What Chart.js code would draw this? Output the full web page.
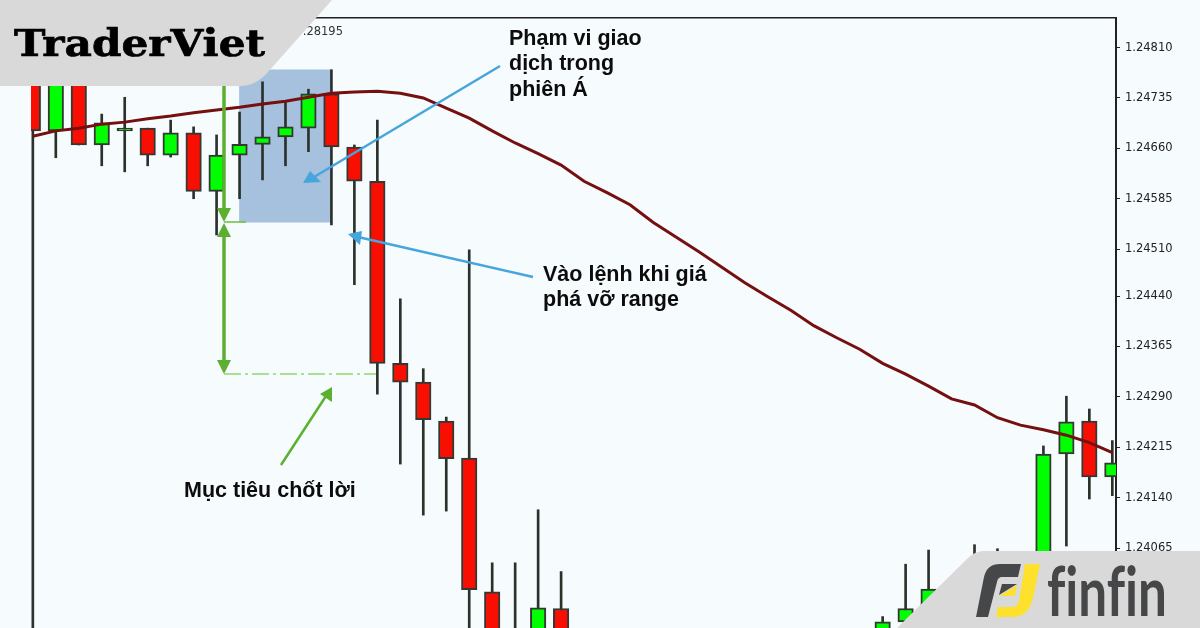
<!DOCTYPE html>
<html>
<head>
<meta charset="utf-8">
<title>TraderViet</title>
<script src="https://cdn.jsdelivr.net/npm/chart.js@4"></script>
<style>
  html, body { margin: 0; padding: 0; background: #f6fbfe; overflow: hidden; }
  #wrap { position: relative; width: 1200px; height: 628px; }
  #overlay { position: absolute; left: 0; top: 0; }
  .note { font: bold 21.5px "Liberation Sans", sans-serif; fill: #0c0c0c; }
</style>
</head>
<body>
<div id="wrap">
  <canvas id="priceChart" width="1200" height="628"></canvas>
  <svg id="overlay" width="1200" height="628" viewBox="0 0 1200 628">
    <text x="343" y="35" text-anchor="end" font-family="DejaVu Sans" font-size="11.5" fill="#333">.28195</text>

    <!-- take profit guides -->
    <line x1="224" y1="222" x2="246" y2="222" stroke="#6cbf3e" stroke-width="1.5"/>
    <line x1="224" y1="374" x2="376" y2="374" stroke="#93d66f" stroke-width="1.5" stroke-dasharray="17 4 3 4"/>
    <line x1="224" y1="80" x2="224" y2="210" stroke="#5cb030" stroke-width="3.5"/>
    <polygon points="217,208 231,208 224,222" fill="#5cb030"/>
    <line x1="224" y1="234" x2="224" y2="362" stroke="#5cb030" stroke-width="3.5"/>
    <polygon points="217,237 231,237 224,223" fill="#5cb030"/>
    <polygon points="217,360 231,360 224,374" fill="#5cb030"/>
    <line x1="281" y1="465" x2="326" y2="396" stroke="#5cb030" stroke-width="2.5"/>
    <polygon points="332,387 320,394 332,402" fill="#5cb030"/>

    <!-- blue pointers -->
    <line x1="500" y1="66" x2="314" y2="177" stroke="#45a5dc" stroke-width="2.5"/>
    <polygon points="303,183 310,171 321,182" fill="#45a5dc"/>
    <line x1="533" y1="277" x2="358" y2="237" stroke="#45a5dc" stroke-width="2.5"/>
    <polygon points="348,234 362,231 360,245" fill="#45a5dc"/>

    <text class="note" x="509" y="45">Phạm vi giao</text>
    <text class="note" x="509" y="70">dịch trong</text>
    <text class="note" x="509" y="96">phiên Á</text>
    <text class="note" x="543" y="281">Vào lệnh khi giá</text>
    <text class="note" x="543" y="306">phá vỡ range</text>
    <text class="note" x="184" y="497">Mục tiêu chốt lời</text>

    <!-- corner logos -->
    <path d="M0 0H332L268 72Q256 86 240 86H0Z" fill="#d9d9d9"/>
    <text x="14" y="56" font-family="DejaVu Serif" font-weight="bold" font-size="38" textLength="251" lengthAdjust="spacingAndGlyphs" fill="#000" stroke="#000" stroke-width="0.7">TraderViet</text>

    <path d="M1200 551H984Q975 551 968 558L897 628H1200Z" fill="#d9d9d9"/>
    <path d="M976 617L984 577Q987 564 1000 564H1021L1018 577H1002Q998 577 997 582L988 617Z" fill="#454749"/>
    <polygon points="999,595 1017,584 1002,584" fill="#454749"/>
    <polygon points="999.5,596 1017,585 1015,596" fill="#fde12d"/>
    <path d="M1025 564H1040L1033 598Q1029 617 1012 617H996L998 607H1012Q1018 607 1019 601Z" fill="#fde12d"/>
    <text x="1047" y="616" font-family="Lato" font-weight="bold" font-size="68" textLength="120" lengthAdjust="spacingAndGlyphs" fill="#454749" style="font-variant-ligatures:none">finfin</text>
  </svg>
</div>
<script>
// prices, one slot per candle. null = not visible (below the crop or under the logo)
const opens = [1.24762, 1.24686, 1.24762, 1.24665, 1.24686, 1.24690, 1.24650, 1.24683, 1.24596, 1.24650,
  1.24666, 1.24677, 1.24690, 1.24741, 1.24662, 1.24611, 1.24340, 1.24312, 1.24254, 1.24199,
  1.24000, 1.23935, 1.23930, 1.23975, null, null, null, null, null, null,
  null, null, null, null, null, null, null, 1.23930, 1.23955, 1.23970,
  null, 1.24000, 1.24000, null, 1.23988, 1.24205, 1.24254, 1.24171];
const highs = [1.24790, 1.24775, 1.24775, 1.24711, 1.24736, 1.24690, 1.24702, 1.24692, 1.24680, 1.24714,
  1.24759, 1.24729, 1.24748, 1.24777, 1.24665, 1.24702, 1.24436, 1.24332, 1.24260, 1.24509,
  1.24043, 1.24043, 1.24122, 1.24030, null, null, null, null, null, null,
  null, null, null, null, null, null, null, 1.23963, 1.24041, 1.24062,
  null, 1.24070, 1.24064, null, 1.24217, 1.24291, 1.24272, 1.24225];
const lows = [1.23928, 1.24646, 1.24665, 1.24634, 1.24625, 1.24634, 1.24647, 1.24585, 1.24531, 1.24585,
  1.24613, 1.24634, 1.24655, 1.24546, 1.24457, 1.24294, 1.24190, 1.24114, 1.24120, 1.23928,
  1.23920, 1.23920, 1.23920, 1.23920, null, null, null, null, null, null,
  null, null, null, null, null, null, null, 1.23920, 1.23940, 1.23950,
  null, 1.23980, 1.23980, null, 1.23970, 1.24068, 1.24138, 1.24143];
const closes = [1.24686, 1.24762, 1.24665, 1.24698, 1.24690, 1.24650, 1.24683, 1.24596, 1.24650, 1.24666,
  1.24677, 1.24692, 1.24741, 1.24662, 1.24611, 1.24340, 1.24312, 1.24256, 1.24198, 1.24003,
  1.23930, 1.23930, 1.23976, 1.23930, null, null, null, null, null, null,
  null, null, null, null, null, null, null, 1.23955, 1.23975, 1.24004,
  null, 1.24047, 1.24040, null, 1.24205, 1.24253, 1.24171, 1.24192];
const movingAvg = [1.24678, 1.24686, 1.24690, 1.24696, 1.24699, 1.24704, 1.24708, 1.24713, 1.24717, 1.24721,
  1.24726, 1.24730, 1.24736, 1.24742, 1.24744, 1.24745, 1.24742, 1.24735, 1.24720, 1.24705,
  1.24686, 1.24668, 1.24652, 1.24635, 1.24611, 1.24594, 1.24576, 1.24550, 1.24528, 1.24506,
  1.24483, 1.24460, 1.24439, 1.24419, 1.24396, 1.24378, 1.24361, 1.24340, 1.24324, 1.24306,
  1.24287, 1.24278, 1.24259, 1.24248, 1.24241, 1.24233, 1.24222, 1.24207];
const priceTicks = [1.24810, 1.24735, 1.24660, 1.24585, 1.24510, 1.24440, 1.24365, 1.24290, 1.24215, 1.24140, 1.24065];
const asiaRange = [1.24550, 1.24777]; // low, high of the shaded session box
const asiaMiddle = 11; // candle the box is centred on

const candleIdx = opens.map((_, i) => i).filter(i => opens[i] !== null);
const upIdx = candleIdx.filter(i => closes[i] > opens[i]);
const downIdx = candleIdx.filter(i => closes[i] <= opens[i]);

function bodyData(list) {
  return list.map(i => ({ x: i, y: [opens[i], closes[i]] }));
}

new Chart(document.getElementById('priceChart').getContext('2d'), {
  type: 'bar',
  data: {
    datasets: [
      {
        data: [{ x: asiaMiddle, y: asiaRange }],
        backgroundColor: '#a5c1de',
        barThickness: 92,
        grouped: false,
        order: 4,
      },
      {
        data: candleIdx.map(i => ({ x: i, y: [lows[i], highs[i]] })),
        backgroundColor: '#2b312b',
        barThickness: 2,
        grouped: false,
        order: 3,
      },
      {
        data: bodyData(upIdx),
        backgroundColor: '#00ff00',
        borderColor: '#333833',
        borderWidth: 2,
        borderSkipped: false,
        barThickness: 15.5,
        grouped: false,
        order: 2,
      },
      {
        data: bodyData(downIdx),
        backgroundColor: '#f90e02',
        borderColor: '#333833',
        borderWidth: 2,
        borderSkipped: false,
        barThickness: 15.5,
        grouped: false,
        order: 2,
      },
      {
        type: 'line',
        data: movingAvg.map((v, i) => ({ x: i, y: v })),
        borderColor: '#761010',
        borderWidth: 3,
        pointRadius: 0,
        tension: 0,
        order: 1,
      },
    ],
  },
  options: {
    responsive: false,
    animation: false,
    layout: { padding: { left: 31, top: 18, right: 0, bottom: 0 } },
    plugins: { legend: { display: false }, tooltip: { enabled: false } },
    scales: {
      x: {
        type: 'linear',
        position: 'top',
        offset: false,
        min: -0.08,
        max: 47.16,
        grid: { display: false },
        border: { display: true, color: '#222', width: 1.5 },
        ticks: { display: false },
        afterFit(scale) { scale.height = 0; },
      },
      y: {
        position: 'right',
        min: 1.23946,
        max: 1.24854,
        grid: { drawOnChartArea: false, drawTicks: true, tickLength: 4, tickColor: '#222' },
        border: { display: true, color: '#222', width: 2 },
        ticks: {
          autoSkip: false,
          padding: 5,
          color: '#222',
          font: { family: 'DejaVu Sans', size: 11.5 },
          callback: v => v.toFixed(5),
        },
        afterBuildTicks(scale) { scale.ticks = priceTicks.map(v => ({ value: v })); },
        afterFit(scale) {
          scale.width = 84;
          scale.paddingTop = 0;
          scale.paddingBottom = 0;
        },
      },
    },
  },
});
</script>
</body>
</html>
